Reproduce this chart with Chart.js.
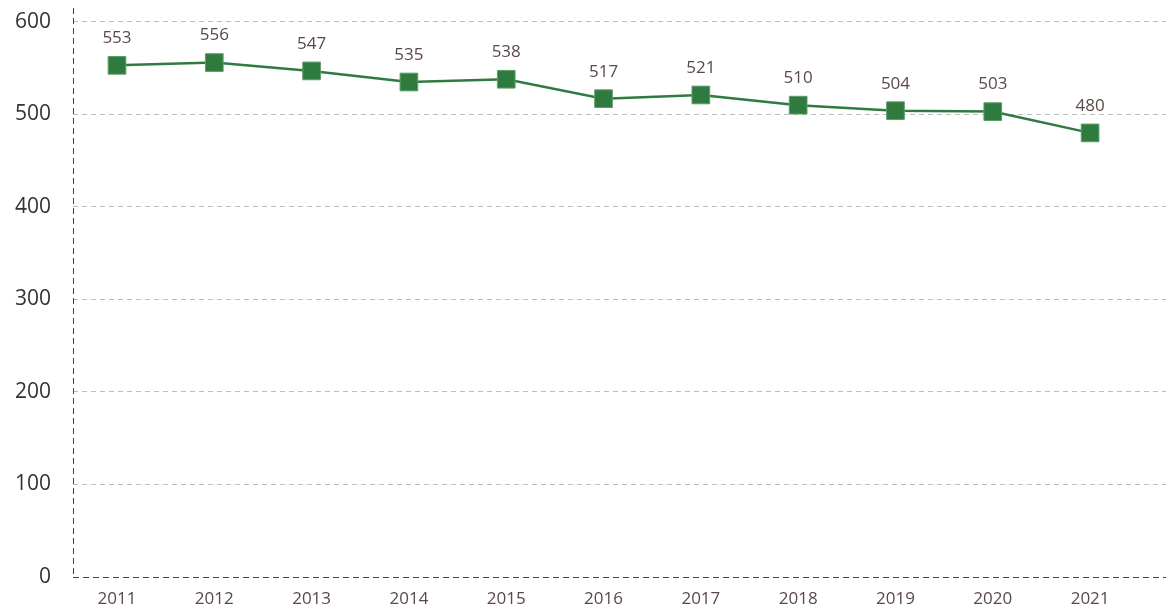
<!DOCTYPE html>
<html>
<head>
<meta charset="utf-8">
<script src="https://cdn.jsdelivr.net/npm/chart.js@4/dist/chart.umd.min.js"></script>
<style>
  html, body { margin: 0; padding: 0; background: #fff; }
  #wrap { width: 1166px; height: 611px; }
</style>
</head>
<body>
<div id="wrap"><canvas id="lineChart"></canvas></div>
<script>
const years = [2011, 2012, 2013, 2014, 2015, 2016, 2017, 2018, 2019, 2020, 2021];
const values = [553, 556, 547, 535, 538, 517, 521, 510, 504, 503, 480];
const yTicks = [0, 100, 200, 300, 400, 500, 600];

const green = '#2f7a3e';
const labelColor = '#5b4848';

// draws the value above each marker
const valueLabels = {
    id: 'valueLabels',
    afterDatasetsDraw(chart) {
        const ctx = chart.ctx;
        const meta = chart.getDatasetMeta(0);
        ctx.save();
        ctx.font = '17px "Open Sans", sans-serif';
        ctx.fillStyle = labelColor;
        ctx.textAlign = 'center';
        ctx.textBaseline = 'middle';
        meta.data.forEach((pt, i) => {
            ctx.fillText(values[i], pt.x, pt.y - 27);
        });
        ctx.restore();
    }
};

// dashed axis lines (left and bottom)
const dashedAxes = {
    id: 'dashedAxes',
    beforeDatasetsDraw(chart) {
        const { ctx, chartArea: a } = chart;
        ctx.save();
        ctx.strokeStyle = '#444';
        ctx.lineWidth = 1;
        ctx.setLineDash([6, 4]);
        ctx.beginPath();
        ctx.moveTo(a.left + 0.5, a.top);
        ctx.lineTo(a.left + 0.5, a.bottom);
        ctx.moveTo(a.left, a.bottom + 0.5);
        ctx.lineTo(a.right, a.bottom + 0.5);
        ctx.stroke();
        ctx.restore();
    }
};

new Chart(document.getElementById('lineChart'), {
    type: 'line',
    data: {
        datasets: [{
            data: years.map((y, i) => ({ x: y, y: values[i] })),
            borderColor: green,
            borderWidth: 2.5,
            backgroundColor: green,
            pointStyle: 'rect',
            pointRadius: 12.5,
            pointHoverRadius: 12.5,
            pointBackgroundColor: green,
            pointBorderColor: '#5f9c6b',
            pointBorderWidth: 1,
            tension: 0,
            fill: false,
            clip: false
        }]
    },
    options: {
        responsive: true,
        maintainAspectRatio: false,
        animation: false,
        layout: { autoPadding: false, padding: { top: 8, right: 0, left: 0, bottom: 0 } },
        plugins: {
            legend: { display: false },
            tooltip: { enabled: false }
        },
        scales: {
            x: {
                type: 'linear',
                min: 2010.548,
                max: 2021.78,
                afterBuildTicks: axis => { axis.ticks = years.map(v => ({ value: v })); },
                afterFit: axis => {
                    axis.height = 34;
                    axis.paddingLeft = 0;
                    axis.paddingRight = 0;
                },
                grid: { display: false, drawTicks: false },
                border: { display: false },
                ticks: {
                    color: labelColor,
                    padding: 12,
                    font: { family: '"Open Sans", sans-serif', size: 17 },
                    callback: v => String(v)
                }
            },
            y: {
                min: 0,
                max: 615,
                afterBuildTicks: axis => { axis.ticks = yTicks.map(v => ({ value: v })); },
                afterFit: axis => {
                    axis.width = 73;
                    axis.paddingTop = 0;
                    axis.paddingBottom = 0;
                },
                grid: {
                    color: ctx => ctx.tick && ctx.tick.value === 0 ? 'rgba(0,0,0,0)' : '#bdbdbd',
                    lineWidth: 1,
                    drawTicks: false
                },
                border: { display: false, dash: [5, 4] },
                ticks: {
                    color: '#333',
                    padding: 22,
                    font: { family: '"Open Sans", sans-serif', size: 21 }
                }
            }
        }
    },
    plugins: [dashedAxes, valueLabels]
});
</script>
</body>
</html>
